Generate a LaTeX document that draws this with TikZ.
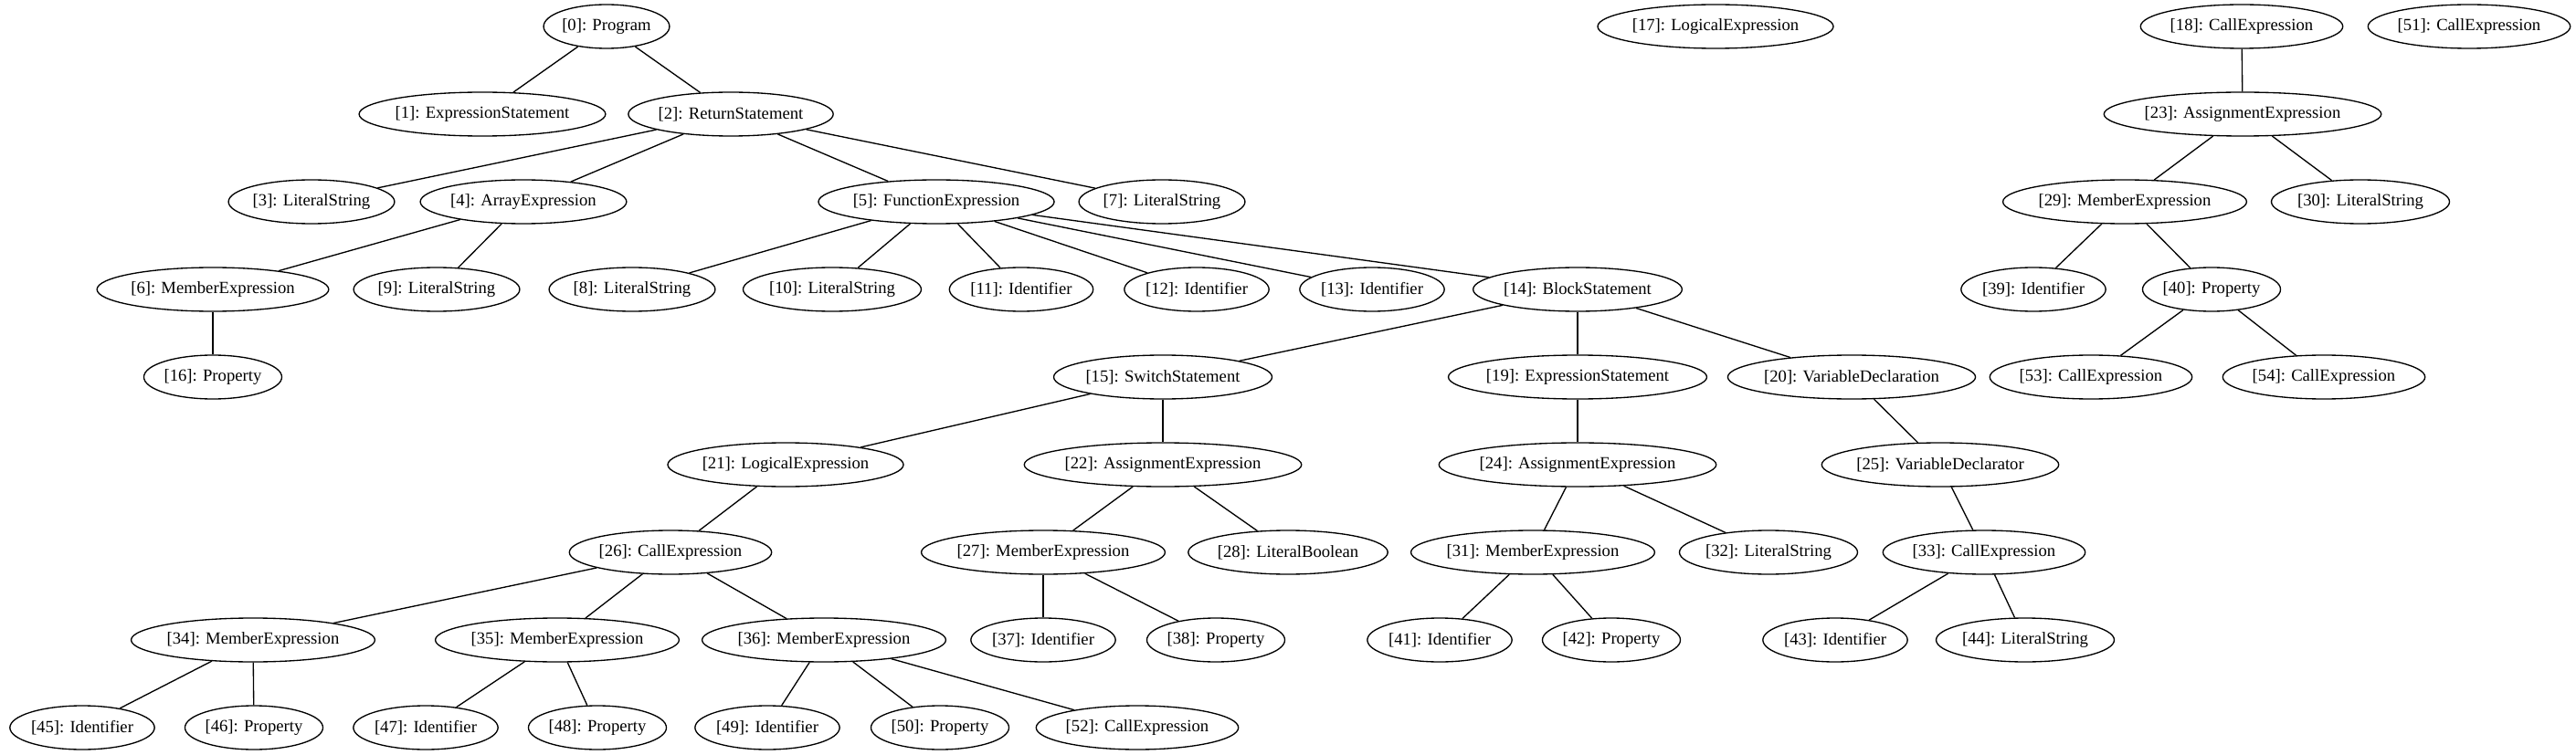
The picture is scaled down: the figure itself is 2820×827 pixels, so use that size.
\documentclass[tikz,border=0pt]{standalone}
\usepackage{fontspec}
\setmainfont{Liberation Serif}
\usetikzlibrary{shapes.geometric}
\newlength\gvw
\tikzset{
  gvnode/.style={ellipse, draw, line width=1pt, inner xsep=0pt, inner ysep=0pt,
    minimum height=36pt, font=\fontsize{14pt}{16pt}\selectfont},
  gvedge/.style={line width=1pt}
}
\newcommand\gvn[3]{%
  \settowidth\gvw{\fontsize{14pt}{16pt}\selectfont #3}%
  \pgfmathsetmacro\gvmw{1.29*(\gvw+16pt)}%
  \node[gvnode, minimum width=\gvmw pt] (#1) at (#2) {#3};}
\begin{document}
\begin{tikzpicture}[x=0.75pt,y=-0.75pt]
\useasboundingbox (0,0) rectangle (2820,827);
% row 0
\gvn{n0}{664,29}{[0]: Program}
\gvn{n17}{1878,29}{[17]: LogicalExpression}
\gvn{n18}{2454,29}{[18]: CallExpression}
\gvn{n51}{2703,29}{[51]: CallExpression}
% row 1
\gvn{n1}{528,125}{[1]: ExpressionStatement}
\gvn{n2}{800,125}{[2]: ReturnStatement}
\gvn{n23}{2455,125}{[23]: AssignmentExpression}
% row 2
\gvn{n3}{341,221}{[3]: LiteralString}
\gvn{n4}{573,221}{[4]: ArrayExpression}
\gvn{n5}{1025,221}{[5]: FunctionExpression}
\gvn{n7}{1272,221}{[7]: LiteralString}
\gvn{n29}{2326,221}{[29]: MemberExpression}
\gvn{n30}{2584,221}{[30]: LiteralString}
% row 3
\gvn{n6}{233,317}{[6]: MemberExpression}
\gvn{n9}{478,317}{[9]: LiteralString}
\gvn{n8}{692,317}{[8]: LiteralString}
\gvn{n10}{911,317}{[10]: LiteralString}
\gvn{n11}{1118,317}{[11]: Identifier}
\gvn{n12}{1310,317}{[12]: Identifier}
\gvn{n13}{1502,317}{[13]: Identifier}
\gvn{n14}{1727,317}{[14]: BlockStatement}
\gvn{n39}{2226,317}{[39]: Identifier}
\gvn{n40}{2421,317}{[40]: Property}
% row 4
\gvn{n16}{233,413}{[16]: Property}
\gvn{n15}{1273,413}{[15]: SwitchStatement}
\gvn{n19}{1727,413}{[19]: ExpressionStatement}
\gvn{n20}{2027,413}{[20]: VariableDeclaration}
\gvn{n53}{2289,413}{[53]: CallExpression}
\gvn{n54}{2544,413}{[54]: CallExpression}
% row 5
\gvn{n21}{860,509}{[21]: LogicalExpression}
\gvn{n22}{1273,509}{[22]: AssignmentExpression}
\gvn{n24}{1727,509}{[24]: AssignmentExpression}
\gvn{n25}{2124,509}{[25]: VariableDeclarator}
% row 6
\gvn{n26}{734,605}{[26]: CallExpression}
\gvn{n27}{1142,605}{[27]: MemberExpression}
\gvn{n28}{1410,605}{[28]: LiteralBoolean}
\gvn{n31}{1678,605}{[31]: MemberExpression}
\gvn{n32}{1936,605}{[32]: LiteralString}
\gvn{n33}{2172,605}{[33]: CallExpression}
% row 7
\gvn{n34}{277,701}{[34]: MemberExpression}
\gvn{n35}{610,701}{[35]: MemberExpression}
\gvn{n36}{902,701}{[36]: MemberExpression}
\gvn{n37}{1142,701}{[37]: Identifier}
\gvn{n38}{1331,701}{[38]: Property}
\gvn{n41}{1576,701}{[41]: Identifier}
\gvn{n42}{1764,701}{[42]: Property}
\gvn{n43}{2009,701}{[43]: Identifier}
\gvn{n44}{2217,701}{[44]: LiteralString}
% row 8
\gvn{n45}{90,797}{[45]: Identifier}
\gvn{n46}{278,797}{[46]: Property}
\gvn{n47}{466,797}{[47]: Identifier}
\gvn{n48}{654,797}{[48]: Property}
\gvn{n49}{840,797}{[49]: Identifier}
\gvn{n50}{1029,797}{[50]: Property}
\gvn{n52}{1245,797}{[52]: CallExpression}
% edges
\foreach \a/\b in {0/1,0/2,2/3,2/4,2/5,2/7,4/6,4/9,6/16,5/8,5/10,5/11,5/12,5/13,5/14,
  14/15,14/19,14/20,15/21,15/22,21/26,22/27,22/28,26/34,26/35,26/36,27/37,27/38,
  34/45,34/46,35/47,35/48,36/49,36/50,36/52,19/24,24/31,24/32,31/41,31/42,
  20/25,25/33,33/43,33/44,18/23,23/29,23/30,29/39,29/40,40/53,40/54}
  \draw[gvedge] (n\a) -- (n\b);
\end{tikzpicture}
\end{document}
